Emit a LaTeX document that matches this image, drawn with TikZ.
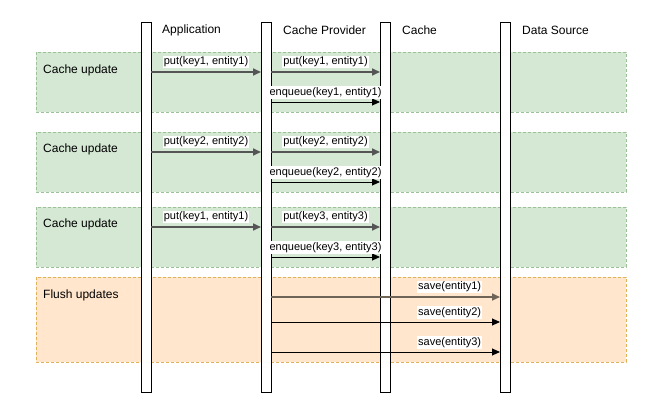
\documentclass[tikz,border=0pt]{standalone}
\usepackage{fontspec}
\setmainfont{Liberation Sans}
\usetikzlibrary{arrows.meta}
\definecolor{gfill}{HTML}{D5E8D4}
\definecolor{gline}{HTML}{9CC198}
\definecolor{ofill}{HTML}{FFE6CC}
\definecolor{oline}{HTML}{E0B25A}
\definecolor{darkarrow}{HTML}{555555}
\definecolor{brownarrow}{HTML}{6E6458}
\tikzset{
  band/.style={draw=#1, dash pattern=on 3pt off 2pt, line width=0.7pt},
  lifeline/.style={draw=black, fill=white, line width=0.9pt, minimum width=10pt, minimum height=370pt, inner sep=0pt, outer sep=0pt},
  title/.style={anchor=west, font=\fontsize{12}{14}\selectfont, inner sep=0pt},
  bandlabel/.style={anchor=west, font=\fontsize{12}{14}\selectfont, inner sep=0pt},
  msg/.style={draw=black, line width=0.9pt, -{Triangle[length=8pt,width=7pt]}},
  msgdark/.style={draw=darkarrow, line width=1.6pt, -{Triangle[length=8pt,width=7pt]}},
  mlabel/.style={fill=white, inner sep=1pt, font=\fontsize{11}{13}\selectfont},
}
\begin{document}
\begin{tikzpicture}[x=1pt,y=-1pt]
\useasboundingbox (0,0) rectangle (667,411);
% bands
\path[fill=gfill, band=gline] (36,52) rectangle (626,112);
\path[fill=gfill, band=gline] (36,132) rectangle (626,192);
\path[fill=gfill, band=gline] (36,207) rectangle (626,267);
\path[fill=ofill, band=oline] (36,277) rectangle (626,362);
\node[bandlabel] (b1) at (43,70) {Cache update};
\node[bandlabel] (b2) at (43,149) {Cache update};
\node[bandlabel] (b3) at (43,224) {Cache update};
\node[bandlabel] (b4) at (43,295) {Flush updates};
% lifelines
\node[lifeline] (app) at (146,207) {};
\node[lifeline] (cp) at (266,207) {};
\node[lifeline] (ca) at (385,207) {};
\node[lifeline] (ds) at (505,207) {};
\node[title] (tapp) at (162,30) {Application};
\node[title] (tcp) at (283,30) {Cache Provider};
\node[title] (tca) at (402,30) {Cache};
\node[title] (tds) at (522,30) {Data Source};
% y levels
\coordinate (y1) at (0,72);
\coordinate (y2) at (0,102);
\coordinate (y3) at (0,152);
\coordinate (y4) at (0,182);
\coordinate (y5) at (0,227);
\coordinate (y6) at (0,257);
\coordinate (y7) at (0,297);
\coordinate (y8) at (0,322);
\coordinate (y9) at (0,352);
% band 1
\draw[msgdark] (app.east |- y1) -- node[mlabel, above=3pt] {put(key1, entity1)} (cp.west |- y1);
\draw[msgdark] (cp.east |- y1) -- node[mlabel, above=3pt] {put(key1, entity1)} (ca.west |- y1);
\draw[msg] (cp.east |- y2) -- node[mlabel, above=3pt] {enqueue(key1, entity1)} (ca.west |- y2);
% band 2
\draw[msgdark] (app.east |- y3) -- node[mlabel, above=3pt] {put(key2, entity2)} (cp.west |- y3);
\draw[msgdark] (cp.east |- y3) -- node[mlabel, above=3pt] {put(key2, entity2)} (ca.west |- y3);
\draw[msg] (cp.east |- y4) -- node[mlabel, above=3pt] {enqueue(key2, entity2)} (ca.west |- y4);
% band 3
\draw[msgdark] (app.east |- y5) -- node[mlabel, above=3pt] {put(key1, entity1)} (cp.west |- y5);
\draw[msgdark] (cp.east |- y5) -- node[mlabel, above=3pt] {put(key3, entity3)} (ca.west |- y5);
\draw[msg] (cp.east |- y6) -- node[mlabel, above=3pt] {enqueue(key3, entity3)} (ca.west |- y6);
% flush
\draw[msgdark, draw=brownarrow] (cp.east |- y7) -- node[mlabel, above=3pt, pos=0.78] {save(entity1)} (ds.west |- y7);
\draw[msg] (cp.east |- y8) -- node[mlabel, above=3pt, pos=0.78] {save(entity2)} (ds.west |- y8);
\draw[msg] (cp.east |- y9) -- node[mlabel, above=3pt, pos=0.78] {save(entity3)} (ds.west |- y9);
\end{tikzpicture}
\end{document}
